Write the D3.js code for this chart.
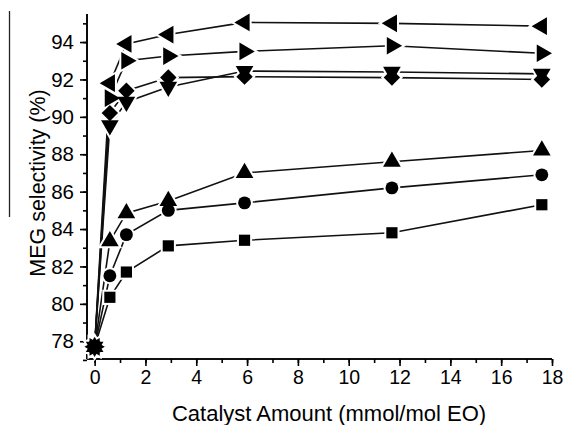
<!DOCTYPE html>
<html>
<head>
<meta charset="utf-8">
<script src="https://cdn.jsdelivr.net/npm/d3@7"></script>
<style>
  body { margin: 0; background: #fff; }
  svg { font-family: "Liberation Sans", Arial, sans-serif; }
</style>
</head>
<body>
<svg id="chart" width="563" height="425"></svg>
<script>
'use strict'
// catalyst amounts (mmol/mol EO)
const amounts = [0, 0.6, 1.25, 2.9, 5.9, 11.7, 17.6]

// MEG selectivity (%) per catalyst
const squareVals   = [77.7, 80.35, 81.7, 83.1, 83.4, 83.8, 85.3]
const circleVals   = [77.7, 81.5, 83.7, 85.0, 85.4, 86.2, 86.9]
const triUpVals    = [77.7, 83.35, 84.85, 85.5, 87.0, 87.6, 88.2]
const diamondVals  = [77.7, 90.2, 91.4, 92.1, 92.15, 92.1, 92.0]
const triDownVals  = [77.7, 89.55, 90.8, 91.6, 92.45, 92.4, 92.3]
const triRightVals = [77.7, 91.0, 93.0, 93.25, 93.5, 93.8, 93.4]
const triLeftVals  = [77.7, 91.8, 93.9, 94.4, 95.05, 95.0, 94.85]

const xTicks = [0, 2, 4, 6, 8, 10, 12, 14, 16, 18]
const yTicks = [78, 80, 82, 84, 86, 88, 90, 92, 94]

const series = [
  { vals: squareVals,   shape: 'square' },
  { vals: circleVals,   shape: 'circle' },
  { vals: triUpVals,    shape: 'up' },
  { vals: diamondVals,  shape: 'diamond' },
  { vals: triDownVals,  shape: 'down' },
  { vals: triRightVals, shape: 'right' },
  { vals: triLeftVals,  shape: 'left' }
]

const plotL = 87, plotR = 552, plotT = 14, plotB = 359

const x = d3.scaleLinear().domain([-0.3, 18]).range([plotL, plotR])
const y = d3.scaleLinear().domain([77.05, 95.5]).range([plotB, plotT])

const svg = d3.select('#chart')

// scan border artefact on the left edge
svg.append('line')
  .attr('x1', 9.5).attr('x2', 9.5).attr('y1', 11).attr('y2', 217)
  .attr('stroke', '#222').attr('stroke-width', 1.3)

// axes
const xAxis = svg.append('g').attr('transform', 'translate(0,' + plotB + ')')
xAxis.append('g').call(d3.axisBottom(x).tickValues(d3.range(0, 19, 1)).tickSize(4).tickFormat(''))
xAxis.append('g').call(d3.axisBottom(x).tickValues(xTicks).tickSize(7).tickPadding(4).tickFormat(d3.format('d')))
xAxis.selectAll('.domain').attr('d', 'M' + plotL + ',0H' + plotR)
xAxis.selectAll('text').attr('font-size', 19.5).attr('fill', '#000')

const yAxis = svg.append('g').attr('transform', 'translate(' + plotL + ',0)')
yAxis.append('g').call(d3.axisLeft(y).tickValues(d3.range(77, 96, 1)).tickSize(4).tickFormat(''))
yAxis.append('g').call(d3.axisLeft(y).tickValues(yTicks).tickSize(7).tickPadding(6).tickFormat(d3.format('d')))
yAxis.selectAll('.domain').attr('d', 'M0,' + plotT + 'V' + plotB)
yAxis.selectAll('text').attr('font-size', 20.5).attr('fill', '#000')
svg.selectAll('.domain, .tick line').attr('stroke', '#000').attr('stroke-width', 1.6)

// axis titles
svg.append('text')
  .attr('x', 329).attr('y', 421)
  .attr('text-anchor', 'middle')
  .attr('font-size', 22).attr('fill', '#000')
  .text('Catalyst Amount (mmol/mol EO)')

svg.append('text')
  .attr('transform', 'translate(45,183) rotate(-90)')
  .attr('text-anchor', 'middle')
  .attr('font-size', 21.5).attr('fill', '#000')
  .text('MEG selectivity (%)')

// lines
const line = d3.line().x((d, i) => x(amounts[i])).y(d => y(d))
svg.append('g').selectAll('path')
  .data(series)
  .enter().append('path')
  .attr('d', d => line(d.vals))
  .attr('fill', 'none')
  .attr('stroke', '#111')
  .attr('stroke-width', 1.6)

// marker shapes
const symbolFor = function(shape) {
  if (shape === 'square') return { path: d3.symbol(d3.symbolSquare, 125)(), rot: 0 }
  if (shape === 'circle') return { path: d3.symbol(d3.symbolCircle, 130)(), rot: 0 }
  if (shape === 'diamond') return { path: d3.symbol(d3.symbolSquare, 135)(), rot: 45 }
  const tri = d3.symbol(d3.symbolTriangle, 135)()
  const rot = { up: 0, down: 180, right: 90, left: -90 }[shape]
  return { path: tri, rot: rot }
}

const points = []
series.forEach(s => {
  s.vals.forEach((v, i) => points.push({ x: amounts[i], y: v, shape: s.shape }))
})

const place = d => {
  const sym = symbolFor(d.shape)
  return 'translate(' + x(d.x) + ',' + y(d.y) + ') rotate(' + sym.rot + ')'
}

// white halos first so the lines stop short of the markers
svg.append('g').selectAll('path')
  .data(points)
  .enter().append('path')
  .attr('d', d => symbolFor(d.shape).path)
  .attr('transform', place)
  .attr('fill', '#fff')
  .attr('stroke', '#fff')
  .attr('stroke-width', 4)

svg.append('g').selectAll('path')
  .data(points)
  .enter().append('path')
  .attr('d', d => symbolFor(d.shape).path)
  .attr('transform', place)
  .attr('fill', '#000')
</script>
</body>
</html>
